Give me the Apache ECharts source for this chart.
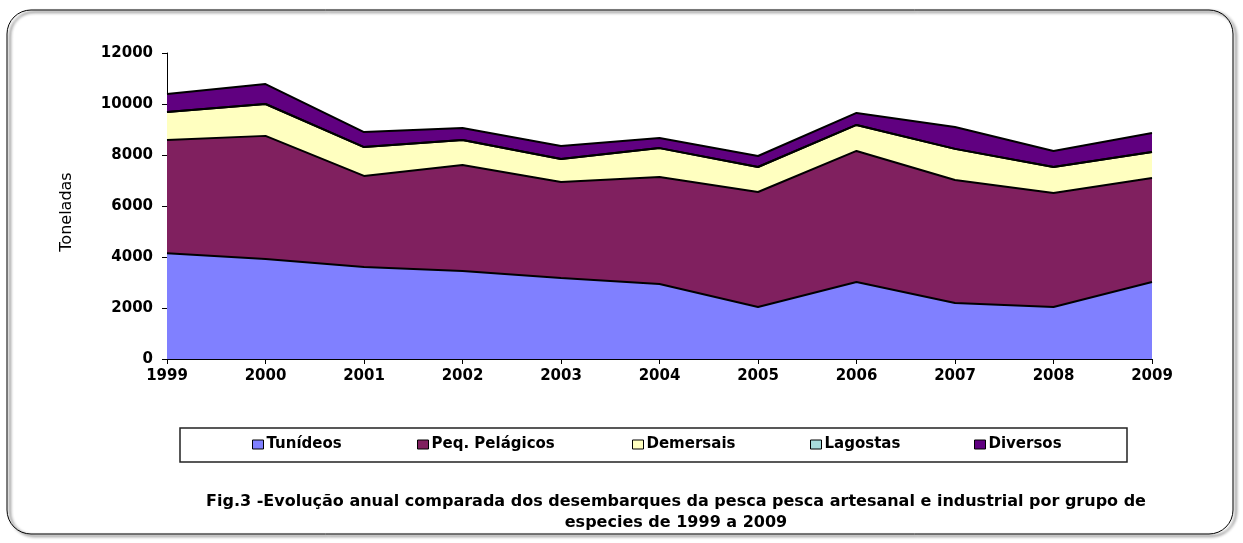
<!DOCTYPE html>
<html>
<head>
    <meta charset="utf-8">
    <title>Fig.3</title>
    <script src="https://cdn.jsdelivr.net/npm/echarts@6/dist/echarts.min.js"></script>
    <style>
        html, body { margin: 0; padding: 0; background: #fff; }
        #main { width: 1243px; height: 543px; }
    </style>
</head>
<body>
<div id="main"></div>
<script type="text/javascript">
    // values (toneladas)
    var years = ['1999', '2000', '2001', '2002', '2003', '2004', '2005', '2006', '2007', '2008', '2009'];
    var tunideos = [4150, 3920, 3610, 3450, 3180, 2940, 2040, 3020, 2200, 2040, 3020];
    var pelagicos = [4440, 4830, 3570, 4160, 3760, 4200, 4510, 5140, 4820, 4470, 4080];
    var demersais = [1100, 1250, 1130, 980, 900, 1130, 980, 1020, 1220, 1020, 1020];
    var lagostas = [0, 0, 0, 0, 0, 0, 0, 0, 0, 0, 0];
    var diversos = [700, 780, 590, 470, 510, 400, 430, 470, 860, 630, 740];

    var names = ['Tunídeos', 'Peq. Pelágicos', 'Demersais', 'Lagostas', 'Diversos'];
    var colors = ['#8080ff', '#80205f', '#ffffc0', '#a8dcdc', '#600080'];
    var values = [tunideos, pelagicos, demersais, lagostas, diversos];
    var legendLeft = [252, 417, 632, 810, 974];

    var chart = echarts.init(document.getElementById('main'));

    var series = names.map(function (n, i) {
        return {
            name: n,
            type: 'line',
            stack: 'total',
            data: values[i],
            showSymbol: false,
            symbol: 'none',
            lineStyle: { color: '#000', width: 2 },
            areaStyle: { color: colors[i], opacity: 1 },
            itemStyle: { color: colors[i], borderColor: '#000', borderWidth: 1 }
        };
    });

    var legends = names.map(function (n, i) {
        return {
            data: [n],
            left: legendLeft[i],
            top: 437,
            icon: 'rect',
            itemWidth: 11,
            itemHeight: 9,
            itemGap: 4,
            padding: 0,
            itemStyle: { borderColor: '#000', borderWidth: 1 },
            textStyle: { fontFamily: 'DejaVu Sans', fontWeight: 'bold', fontSize: 15, color: '#000', padding: [0, 0, 0, -2] }
        };
    });

    var option = {
        animation: false,
        color: colors,
        title: {
            text: 'Fig.3 -Evolução anual comparada dos desembarques da pesca pesca artesanal e industrial por grupo de\nespecies de 1999 a 2009',
            left: 671,
            top: 486,
            textAlign: 'center',
            textStyle: {
                fontFamily: 'DejaVu Sans',
                fontWeight: 'bold',
                fontSize: 16,
                lineHeight: 21,
                color: '#000'
            }
        },
        legend: legends,
        graphic: [
            {
                type: 'rect',
                shape: { x: 7, y: 10, width: 1226, height: 524, r: 24 },
                style: {
                    fill: 'none',
                    stroke: '#000',
                    lineWidth: 1,
                    shadowBlur: 3,
                    shadowOffsetX: 3,
                    shadowOffsetY: 2,
                    shadowColor: 'rgba(0,0,0,0.9)'
                },
                z: -10
            },
            {
                type: 'rect',
                shape: { x: 180, y: 428, width: 947, height: 34 },
                style: { fill: '#fff', stroke: '#222', lineWidth: 1.5 },
                z: -5
            }
        ],
        grid: {
            left: 167,
            right: 91,
            top: 53,
            bottom: 184
        },
        xAxis: {
            type: 'category',
            data: years,
            boundaryGap: false,
            axisLine: { lineStyle: { color: '#000', width: 1 } },
            axisTick: { alignWithLabel: true, length: 5, lineStyle: { color: '#000' } },
            axisLabel: {
                color: '#000',
                fontFamily: 'DejaVu Sans',
                fontWeight: 'bold',
                fontSize: 15,
                margin: 10
            }
        },
        yAxis: {
            type: 'value',
            min: 0,
            max: 12000,
            interval: 2000,
            name: 'Toneladas',
            nameLocation: 'middle',
            nameGap: 92,
            nameTextStyle: { color: '#000', fontFamily: 'DejaVu Sans', fontSize: 16, padding: [0, 12, 0, 0] },
            axisLine: { show: true, lineStyle: { color: '#000', width: 1 } },
            axisTick: { show: true, length: 5, lineStyle: { color: '#000' } },
            splitLine: { show: false },
            axisLabel: {
                color: '#000',
                fontFamily: 'DejaVu Sans',
                fontWeight: 'bold',
                fontSize: 15,
                margin: 14,
                formatter: function (v) { return String(v); }
            }
        },
        series: series
    };

    chart.setOption(option);
</script>
</body>
</html>
